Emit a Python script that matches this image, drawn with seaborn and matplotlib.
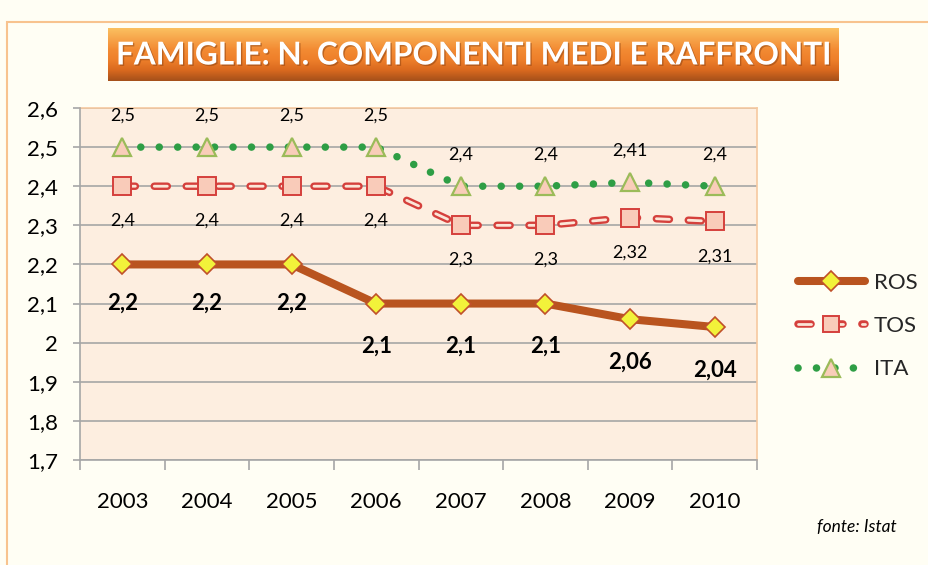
import numpy as np
import pandas as pd
import seaborn as sns
import matplotlib.pyplot as plt
import matplotlib.patheffects as pe
from matplotlib.colors import LinearSegmentedColormap
from matplotlib.lines import Line2D
from matplotlib.patches import Rectangle

# data
years = ["2003", "2004", "2005", "2006", "2007", "2008", "2009", "2010"]
ros = [2.2, 2.2, 2.2, 2.1, 2.1, 2.1, 2.06, 2.04]
tos = [2.4, 2.4, 2.4, 2.4, 2.3, 2.3, 2.32, 2.31]
ita = [2.5, 2.5, 2.5, 2.5, 2.4, 2.4, 2.41, 2.4]
y_ticks = [1.7, 1.8, 1.9, 2.0, 2.1, 2.2, 2.3, 2.4, 2.5, 2.6]
series_names = ["ROS", "TOS", "ITA"]
title = "FAMIGLIE: N. COMPONENTI MEDI E RAFFRONTI"
source = "fonte: Istat"

# colours
BG = "#FFFEF4"
PLOT_BG = "#FDEEE0"
ROS_C = "#B9541F"
TOS_C = "#D5403C"
ITA_C = "#2E9E45"
GRID_C = "#A6A6A6"
FRAME_C = "#F8C38E"


def fmt(v):
    s = f"{v:.2f}".rstrip("0").rstrip(".")
    return s.replace(".", ",")


sns.set_theme(style="white")
plt.rcParams["font.family"] = ["Lato", "DejaVu Sans"]

W, H = 929, 565
fig = plt.figure(figsize=(W / 100, H / 100), dpi=100, facecolor=BG)

# outer frame
fig.patches.append(Rectangle((7 / W, -0.1), 2, (H - 22) / H + 0.1, transform=fig.transFigure,
                             fill=False, edgecolor=FRAME_C, linewidth=1.5))

# title box with gradient
tax = fig.add_axes([108 / W, 1 - 81 / H, 731 / W, 53 / H])
grad = LinearSegmentedColormap.from_list(
    "title", ["#A5501A", "#D9691F", "#EE7F2A", "#F38B33", "#F7A54B", "#FBC060"])
tax.imshow(np.linspace(0, 1, 100).reshape(-1, 1), aspect="auto", cmap=grad,
           origin="lower", extent=[0, 1, 0, 1])
tax.set_xlim(0, 1)
tax.set_ylim(0, 1)
tax.axis("off")
fig.text(473 / W, 1 - 55 / H, title, color="white", fontsize=22.7, fontweight="bold",
         ha="center", va="center",
         path_effects=[pe.withSimplePatchShadow(offset=(1, -1), shadow_rgbFace="#8A4010",
                                                alpha=0.5)])

# main plot
ax = fig.add_axes([80 / W, 1 - 460 / H, 677 / W, 352 / H])
ax.set_facecolor(PLOT_BG)
x = np.arange(len(years))

for v in y_ticks:
    ax.axhline(v, color=GRID_C, linewidth=1.2, zorder=1)

# ITA dotted line
ita_ls = (0, (0.01, 2.45))
sns.lineplot(x=x, y=ita, ax=ax, color=ITA_C, linewidth=5.4, zorder=3)
l_ita = ax.lines[-1]
l_ita.set_linestyle(ita_ls)
l_ita.set_dash_capstyle("round")

# TOS hollow dashed line
tos_ls = (0, (4.7, 6.8))
sns.lineplot(x=x, y=tos, ax=ax, color="#FBE6D8", linewidth=2.0, zorder=3)
l_tos = ax.lines[-1]
l_tos.set_linestyle(tos_ls)
l_tos.set_dash_capstyle("round")
tos_fx = [pe.Stroke(linewidth=5.4, foreground=TOS_C), pe.Normal()]
l_tos.set_path_effects(tos_fx)

# ROS solid line
sns.lineplot(x=x, y=ros, ax=ax, color=ROS_C, linewidth=5.8, zorder=3)
ax.lines[-1].set_solid_capstyle("round")

# markers
ax.plot(x, ita, linestyle="none", marker="^", markersize=13.5, markerfacecolor="#F9CDB9",
        markeredgecolor="#9BBB59", markeredgewidth=1.6, zorder=5)
ax.plot(x, tos, linestyle="none", marker="s", markersize=12.5, markerfacecolor="#F9CBB9",
        markeredgecolor=TOS_C, markeredgewidth=1.4, zorder=5)
ax.plot(x, ros, linestyle="none", marker="D", markersize=10.5, markerfacecolor="#F2F23A",
        markeredgecolor="#C0502A", markeredgewidth=1.2, zorder=5)

# data labels
for xi, v in zip(x, ita):
    ax.annotate(fmt(v), (xi, v), xytext=(0, 23), textcoords="offset points",
                ha="center", va="center", fontsize=13, color="black", zorder=6)
for xi, v in zip(x, tos):
    ax.annotate(fmt(v), (xi, v), xytext=(0, -25), textcoords="offset points",
                ha="center", va="center", fontsize=13, color="black", zorder=6)
for xi, v in zip(x, ros):
    off = -28 if v >= 2.2 else -31
    ax.annotate(fmt(v), (xi, v), xytext=(0, off), textcoords="offset points",
                ha="center", va="center", fontsize=16, fontweight="bold",
                color="black", zorder=6)

# axes styling
ax.set_xlim(-0.5, len(years) - 0.5)
ax.set_ylim(1.7, 2.6)
ax.set_yticks(y_ticks)
ax.set_yticklabels([fmt(v) for v in y_ticks])
ax.set_xticks(x)
ax.set_xticklabels(years)
ax.set_xticks(np.arange(-0.5, len(years)), minor=True)
ax.tick_params(axis="x", which="major", length=0, pad=23, labelsize=16, colors="black")
ax.tick_params(axis="x", which="minor", length=7, width=1.2, color=GRID_C, bottom=True,
               direction="out")
ax.tick_params(axis="y", length=5, width=1.2, color=GRID_C, left=True, direction="out",
               pad=11, labelsize=16, labelcolor="black")
ax.set_xlabel("")
ax.set_ylabel("")
for side in ["left", "bottom"]:
    ax.spines[side].set_color(GRID_C)
    ax.spines[side].set_linewidth(1.2)
for side in ["top", "right"]:
    ax.spines[side].set_color("#F6C9A0")
    ax.spines[side].set_linewidth(1.2)
    ax.spines[side].set_zorder(2)

# legend
h_ros = (Line2D([], [], color=ROS_C, linewidth=5.8, solid_capstyle="round"),
         Line2D([], [], linestyle="none", marker="D", markersize=10, markerfacecolor="#F2F23A",
                markeredgecolor="#C0502A", markeredgewidth=1.2))
h_tos_line = Line2D([], [], color="#FBE6D8", linewidth=2.0, linestyle=tos_ls,
                    dash_capstyle="round")
h_tos_line.set_path_effects(tos_fx)
h_tos = (h_tos_line,
         Line2D([], [], linestyle="none", marker="s", markersize=12, markerfacecolor="#F9CBB9",
                markeredgecolor=TOS_C, markeredgewidth=1.4))
h_ita = (Line2D([], [], color=ITA_C, linewidth=5.4, linestyle=ita_ls, dash_capstyle="round"),
         Line2D([], [], linestyle="none", marker="^", markersize=13, markerfacecolor="#F9CDB9",
                markeredgecolor="#9BBB59", markeredgewidth=1.6))
ax.legend(handles=[h_ros, h_tos, h_ita], labels=series_names, loc="center left",
          bbox_to_anchor=(778 / W, 1 - 326 / H), bbox_transform=fig.transFigure,
          frameon=False, fontsize=16, handlelength=3.0, labelspacing=1.05,
          handletextpad=0.4, numpoints=1)

fig.text(897 / W, 1 - 527 / H, source, ha="right", va="center", fontsize=12.5,
         fontstyle="italic", color="black")

fig.savefig("out.png", dpi=100, facecolor=BG)
